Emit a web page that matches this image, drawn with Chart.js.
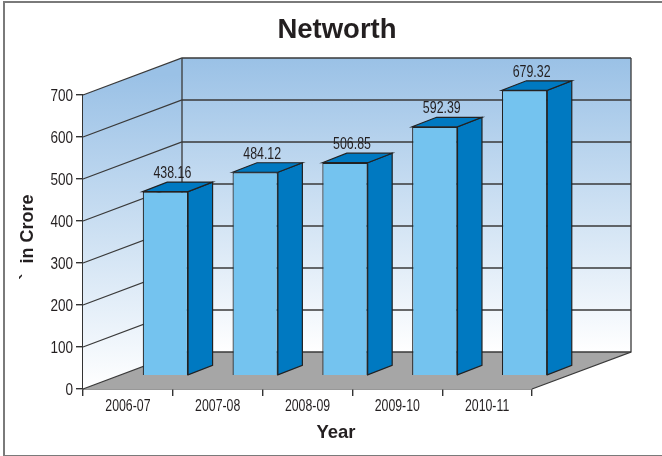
<!DOCTYPE html>
<html>
<head>
<meta charset="utf-8">
<title>Networth</title>
<script src="https://cdn.jsdelivr.net/npm/chart.js@4"></script>
<style>
  body { margin: 0; background: #fff; }
  #frame { position: absolute; left: 3px; top: 1px; width: 662px; height: 452px;
           border: 2px solid #7a7a7a; border-right: none; }
  canvas { position: absolute; left: 0; top: 0; }
</style>
</head>
<body>
<div id="frame"></div>
<canvas id="networth" width="662" height="456"></canvas>
<script>
// Networth, year by year
const years = ['2006-07', '2007-08', '2008-09', '2009-10', '2010-11'];
const networth = [438.16, 484.12, 506.85, 592.39, 679.32];
const yTicks = [0, 100, 200, 300, 400, 500, 600, 700];

const arial = '"Liberation Sans", Arial, sans-serif';
const inkColor = '#231f20';

// fake 3d: how far the back wall sits from the axes, and where the bars stand in between
const wallX = 99, wallY = 37;
const barShiftX = 37.5, barShiftY = 13.4;
const sideX = 24.5, sideY = 9.5;

function poly(ctx, pts, fill, stroke, lw) {
  ctx.beginPath();
  pts.forEach((p, i) => i ? ctx.lineTo(p[0], p[1]) : ctx.moveTo(p[0], p[1]));
  ctx.closePath();
  if (fill) { ctx.fillStyle = fill; ctx.fill(); }
  if (stroke) { ctx.strokeStyle = stroke; ctx.lineWidth = lw; ctx.stroke(); }
}

// no narrow font installed, so squeeze the regular one
function narrowText(ctx, text, x, y, size, squeeze, align) {
  ctx.save();
  ctx.translate(x, y);
  ctx.scale(squeeze, 1);
  ctx.font = size + 'px ' + arial;
  ctx.fillStyle = inkColor;
  ctx.textAlign = align;
  ctx.textBaseline = 'middle';
  ctx.fillText(text, 0, 0);
  ctx.restore();
}

const walls = {
  id: 'walls',
  afterLayout(chart) {
    // title sits right of the plot middle
    chart.titleBlock.left += 71;
    chart.titleBlock.right += 71;
  },
  beforeDatasetsDraw(chart) {
    const { ctx, chartArea: a, scales: { y } } = chart;
    ctx.save();
    const backGrad = ctx.createLinearGradient(0, a.top - wallY, 0, a.bottom - wallY);
    backGrad.addColorStop(0, '#9ac1e6');
    backGrad.addColorStop(1, '#ffffff');
    const sideGrad = ctx.createLinearGradient(0, a.top - 20, 0, a.bottom);
    sideGrad.addColorStop(0, '#9ac1e6');
    sideGrad.addColorStop(1, '#ffffff');

    poly(ctx, [[a.left + wallX, a.top - wallY], [a.right + wallX, a.top - wallY],
               [a.right + wallX, a.bottom - wallY], [a.left + wallX, a.bottom - wallY]], backGrad);
    poly(ctx, [[a.left, a.top], [a.left + wallX, a.top - wallY],
               [a.left + wallX, a.bottom - wallY], [a.left, a.bottom]], sideGrad);
    poly(ctx, [[a.left, a.bottom], [a.right, a.bottom],
               [a.right + wallX, a.bottom - wallY], [a.left + wallX, a.bottom - wallY]], '#a6a6a6');

    yTicks.forEach(v => {
      const py = y.getPixelForValue(v);
      ctx.beginPath();
      ctx.moveTo(a.left, py);
      ctx.lineTo(a.left + wallX, py - wallY);
      ctx.lineTo(a.right + wallX, py - wallY);
      ctx.strokeStyle = '#3a3a3a';
      ctx.lineWidth = 1.3;
      ctx.stroke();
    });
    ctx.beginPath();
    ctx.moveTo(a.left + wallX, a.top - wallY);
    ctx.lineTo(a.left + wallX, a.bottom - wallY);
    ctx.moveTo(a.right + wallX, a.top - wallY);
    ctx.lineTo(a.right + wallX, a.bottom - wallY);
    ctx.lineTo(a.right, a.bottom);
    ctx.stroke();
    ctx.restore();
  },
  // front faces are drawn by chart.js, just moved back onto the floor
  beforeDatasetDraw(chart) {
    chart.ctx.save();
    chart.ctx.translate(barShiftX, -barShiftY);
  },
  afterDatasetDraw(chart, args) {
    const ctx = chart.ctx;
    chart.getDatasetMeta(args.index).data.forEach(bar => {
      const r = bar.x + bar.width / 2, l = bar.x - bar.width / 2;
      poly(ctx, [[r, bar.y], [r + sideX, bar.y - sideY], [r + sideX, bar.base - sideY], [r, bar.base]],
           '#0079c1', '#222', 1.2);
      poly(ctx, [[l, bar.y], [l + sideX, bar.y - sideY], [r + sideX, bar.y - sideY], [r, bar.y]],
           '#0079c1', '#222', 1.2);
    });
    ctx.restore();
  },
  afterDatasetsDraw(chart) {
    const ctx = chart.ctx;
    chart.getDatasetMeta(0).data.forEach((bar, i) => {
      narrowText(ctx, networth[i].toFixed(2), bar.x + barShiftX + 7, bar.y - barShiftY - 18, 16.5, 0.75, 'center');
    });
  },
  afterDraw(chart) {
    const { ctx, scales: { x, y } } = chart;
    x.ticks.forEach((t, i) => narrowText(ctx, x.getLabelForValue(t.value), x.getPixelForTick(i), 407, 16, 0.77, 'center'));
    y.ticks.forEach((t, i) => narrowText(ctx, String(t.value), 73, y.getPixelForTick(i) + 1, 16.5, 0.82, 'right'));

    ctx.save();
    ctx.fillStyle = inkColor;
    ctx.textAlign = 'center';
    ctx.textBaseline = 'middle';
    ctx.font = 'bold 18.5px ' + arial;
    ctx.fillText('Year', 336, 433);
    ctx.translate(28, 237);
    ctx.rotate(-Math.PI / 2);
    ctx.font = 'bold 18px ' + arial;
    ctx.fillText('`  in Crore', 0, 0);
    ctx.restore();
  }
};

new Chart(document.getElementById('networth'), {
  type: 'bar',
  data: {
    labels: years,
    datasets: [{
      data: networth,
      backgroundColor: '#74c3ef',
      borderColor: '#222',
      borderWidth: 1.2,
      barPercentage: 0.505,
      categoryPercentage: 1,
      clip: false
    }]
  },
  options: {
    responsive: false,
    animation: false,
    layout: { padding: { right: 130 } },
    plugins: {
      legend: { display: false },
      tooltip: { enabled: false },
      title: {
        display: true,
        text: 'Networth',
        color: inkColor,
        font: { family: arial, size: 27.5, weight: 'bold', lineHeight: 1.2 },
        padding: { top: 14, bottom: 48 }
      }
    },
    scales: {
      x: {
        afterFit: s => { s.height = 67; },
        border: { color: '#333', width: 1.6 },
        grid: { drawOnChartArea: false, color: '#333', tickLength: 7, lineWidth: 1.4 },
        ticks: { display: false, maxRotation: 0 }
      },
      y: {
        min: 0,
        max: 700,
        afterFit: s => { s.width = 83; },
        afterBuildTicks: s => { s.ticks = yTicks.map(v => ({ value: v })); },
        border: { color: '#333', width: 1.6 },
        grid: { drawOnChartArea: false, color: '#333', tickLength: 7, lineWidth: 1.4 },
        ticks: { display: false }
      }
    }
  },
  plugins: [walls]
});
</script>
</body>
</html>
